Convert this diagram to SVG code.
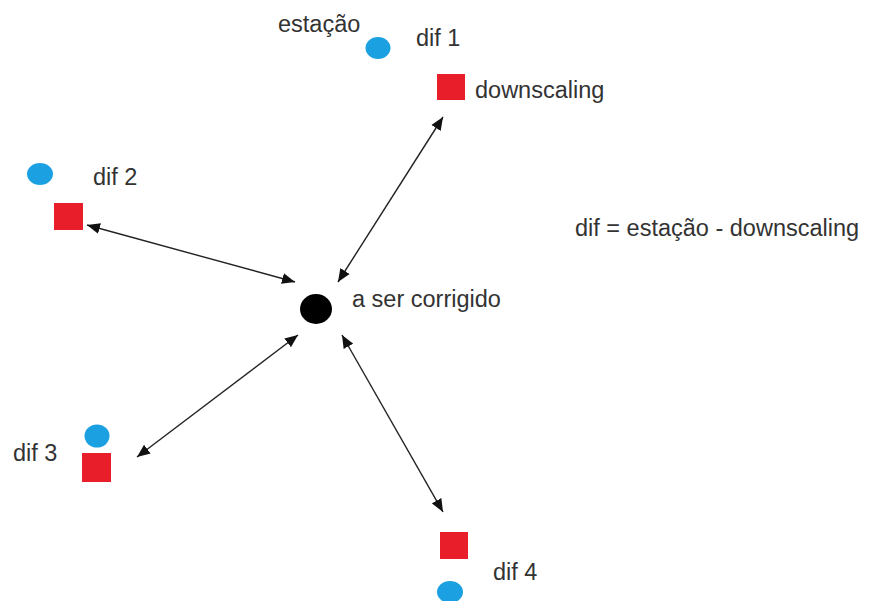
<svg xmlns="http://www.w3.org/2000/svg" width="889" height="601" viewBox="0 0 889 601">
<style>
text{font-family:"Liberation Sans",Arial,sans-serif;font-size:23.5px;fill:#333}
.st{fill:#1ba1e2}
.ds{fill:#e81e2a}
.con line{stroke:#222;stroke-width:1.4;marker-start:url(#ah);marker-end:url(#ah)}
</style>
<defs>
<marker id="ah" markerUnits="userSpaceOnUse" markerWidth="14" markerHeight="12" refX="13" refY="5.5" orient="auto-start-reverse" viewBox="0 0 14 11">
<path d="M0,0 L13,5.5 L0,11 z" fill="#111"/>
</marker>
</defs>
<rect width="889" height="601" fill="#fff"/>
<g class="con" id="connectors">
<line x1="443" y1="117" x2="338" y2="282"/>
<line x1="87" y1="225" x2="295" y2="282"/>
<line x1="137" y1="457" x2="298" y2="335"/>
<line x1="443" y1="512" x2="342" y2="335"/>
</g>
<g id="center">
<ellipse cx="316" cy="309" rx="16" ry="15" fill="#000"/>
<text x="352" y="307">a ser corrigido</text>
</g>
<g id="n1">
<ellipse class="st" cx="378" cy="48" rx="12.5" ry="11"/>
<rect class="ds" x="437" y="74" width="28" height="26"/>
<text x="278" y="32">estação</text>
<text x="416" y="46">dif 1</text>
<text x="475" y="98">downscaling</text>
</g>
<g id="n2">
<ellipse class="st" cx="40" cy="174" rx="13" ry="11"/>
<rect class="ds" x="54" y="203" width="29" height="27"/>
<text x="93" y="185">dif 2</text>
</g>
<g id="n3">
<ellipse class="st" cx="97" cy="436" rx="12.5" ry="11.5"/>
<rect class="ds" x="82" y="453" width="29" height="29"/>
<text x="13" y="461">dif 3</text>
</g>
<g id="n4">
<rect class="ds" x="440" y="532" width="28" height="27"/>
<ellipse class="st" cx="450" cy="592" rx="13" ry="11"/>
<text x="493" y="580">dif 4</text>
</g>
<g id="legend">
<text x="575" y="236">dif = estação - downscaling</text>
</g>
</svg>
